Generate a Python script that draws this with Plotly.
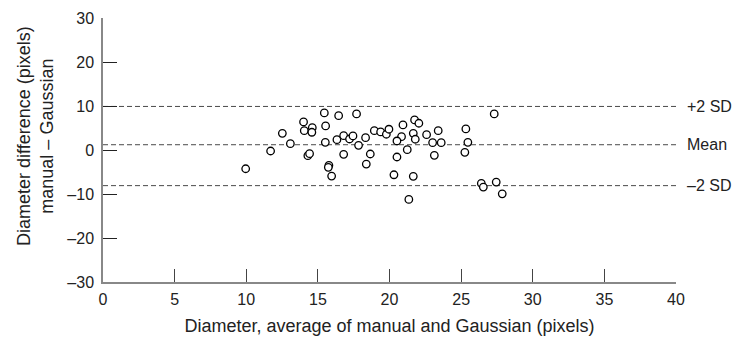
import plotly.graph_objects as go

# Bland-Altman data: average diameter (x) vs difference manual - Gaussian (y)
avg_diameter = [9.96, 11.7, 12.52, 13.08, 14.0, 14.05, 14.61, 14.58, 14.3, 14.42,
                15.45, 15.54, 15.52, 15.77, 15.73, 15.96, 16.45, 16.33, 16.8, 16.8,
                17.21, 17.45, 17.7, 17.84, 18.33, 18.66, 18.38, 18.94, 19.38, 19.78,
                19.96, 20.31, 20.94, 20.84, 20.52, 20.52, 21.24, 21.35, 21.75, 22.05,
                21.66, 21.8, 21.66, 22.59, 23.4, 23.01, 23.61, 23.13, 25.33, 25.47,
                25.26, 27.31, 26.41, 26.55, 27.45, 27.87]
difference = [-4.26, -0.23, 3.8, 1.43, 6.38, 4.4, 5.08, 4.03, -1.3, -0.84,
              8.43, 5.47, 1.75, -3.49, -3.94, -5.92, 7.8, 2.35, 3.26, -0.98,
              2.5, 3.19, 8.2, 1.07, 2.8, -0.91, -3.19, 4.4, 4.1, 3.58,
              4.72, -5.63, 5.69, 3.03, 2.05, -1.59, 0.07, -11.23, 6.83, 6.08,
              3.8, 2.44, -5.99, 3.49, 4.4, 1.66, 1.66, -1.21, 4.78, 1.75,
              -0.52, 8.2, -7.59, -8.43, -7.29, -9.95]

ref_labels = ["+2 SD", "Mean", "\u20132 SD"]
ref_values = [9.9, 1.2, -8.1]

x_ticks = [0, 5, 10, 15, 20, 25, 30, 35, 40]
y_ticks = [-30, -20, -10, 0, 10, 20, 30]
y_ticktext = ["\u201330", "\u201320", "\u201310", "0", "10", "20", "30"]

FONT = "Liberation Sans, Arial, Helvetica, sans-serif"
TXT = "#222222"

fig = go.Figure()
fig.add_trace(go.Scatter(
    x=avg_diameter, y=difference, mode="markers",
    marker=dict(symbol="circle", size=7.5, color="white",
                line=dict(color="black", width=1.3)),
    showlegend=False, hoverinfo="x+y"))

shapes = []
annotations = []
for lab, val in zip(ref_labels, ref_values):
    shapes.append(dict(type="line", xref="x", yref="y", x0=0, x1=40, y0=val, y1=val,
                       line=dict(color="#4a4a4a", width=1, dash="5px,3px"), layer="below"))
    annotations.append(dict(x=40, y=val, xref="x", yref="y", text=lab, showarrow=False,
                            xanchor="left", yanchor="middle", xshift=9,
                            font=dict(family=FONT, size=16, color=TXT)))

annotations.append(dict(x=0, y=0.5, xref="paper", yref="paper",
                        text="Diameter difference (pixels)<br>manual \u2013 Gaussian",
                        textangle=-90, showarrow=False, xanchor="center", yanchor="middle",
                        xshift=-68, yshift=14, font=dict(family=FONT, size=18, color=TXT)))

fig.update_layout(
    width=742, height=339,
    margin=dict(l=103, r=66, t=18, b=57, autoexpand=False),
    plot_bgcolor="white", paper_bgcolor="white",
    font=dict(family=FONT, size=16, color=TXT),
    shapes=shapes, annotations=annotations,
    xaxis=dict(range=[0, 40], tickvals=x_ticks, ticks="inside", ticklen=13,
               tickcolor="#444444", tickwidth=1, showline=True, linecolor="#888888",
               linewidth=1.5, showgrid=False, zeroline=False, ticklabelstandoff=2,
               automargin=False,
               tickfont=dict(family=FONT, size=16, color=TXT),
               title=dict(text="Diameter, average of manual and Gaussian (pixels)",
                          font=dict(family=FONT, size=18, color=TXT), standoff=12)),
    yaxis=dict(range=[-30, 30], tickvals=y_ticks, ticktext=y_ticktext, ticks="inside",
               ticklen=14, tickcolor="#222222", tickwidth=1, showline=True,
               linecolor="#888888", linewidth=1.5, showgrid=False, zeroline=False,
               automargin=False,
               ticklabelstandoff=4, tickfont=dict(family=FONT, size=16, color=TXT)),
)

fig.write_html("out.html", config={"displayModeBar": False},
               post_script="document.body.style.margin='0';document.body.style.overflow='hidden';")
